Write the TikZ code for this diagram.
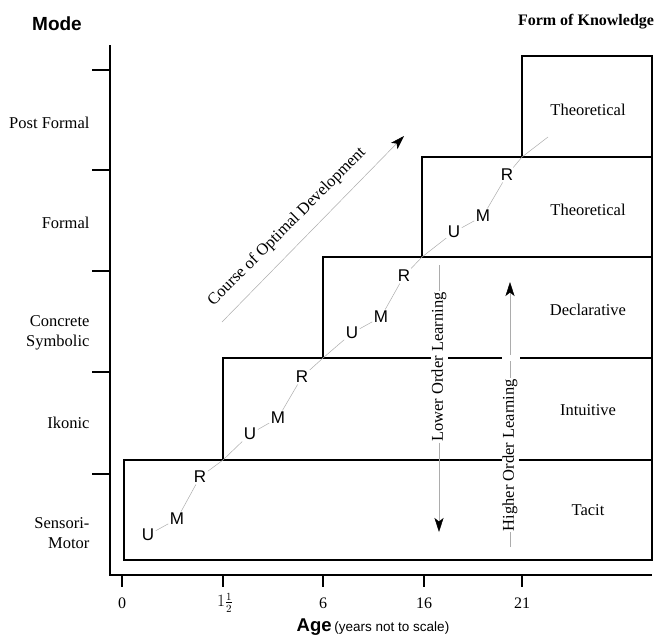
\documentclass[tikz,border=0pt]{standalone}
\usepackage{fontspec}
\setmainfont{Liberation Serif}
\setsansfont{Liberation Sans}
\usetikzlibrary{arrows,arrows.meta}

\begin{document}
\begin{tikzpicture}[-,>=stealth',x=1pt,y=-1pt,
		mode node/.style={anchor=east,align=right,font=\fontsize{16.5}{20}\selectfont},
		form node/.style={font=\fontsize{16.5}{20}\selectfont},
		age node/.style={font=\fontsize{16}{20}\selectfont},
		umr node/.style={font=\sffamily\fontsize{17}{18}\selectfont,inner sep=1.5pt},
		learn node/.style={rotate=90,fill=white,inner sep=1pt,font=\fontsize{16.5}{20}\selectfont},
		box/.style={line width=1.2pt},
		trail/.style={gray!65,line width=0.5pt},
		head/.style={-{Stealth[black,length=14pt,width=9pt,inset=3.5pt]}}]
		\useasboundingbox (0,0) rectangle (661,637);
		% axes and ticks
		\draw[box] (110,45) -- (110,575) -- (652,575);
		\draw[box] (92,70) -- (110,70) (92,170) -- (110,170) (92,271) -- (110,271)
		(92,372) -- (110,372) (92,474) -- (110,474);
		\draw[box] (122,575) -- (122,587) (223,575) -- (223,587) (323,575) -- (323,587)
		(424,575) -- (424,587) (522,575) -- (522,587);
		% steps
		\draw[box] (124,460) rectangle (652,560);
		\draw[box] (223,358) rectangle (652,460);
		\draw[box] (323,257) rectangle (652,358);
		\draw[box] (422,157) rectangle (652,257);
		\draw[box] (522,56) rectangle (652,157);
		
		\node[font=\sffamily\bfseries\fontsize{19}{22}\selectfont] (mode) at (57,24) {Mode};
		\node[font=\bfseries\fontsize{16}{20}\selectfont] (form) at (586,22) {Form of Knowledge};
		\node[mode node] (post) at (93,123) {Post Formal};
		\node[mode node] (formal) at (93,223) {Formal};
		\node[mode node] (concrete) at (93,333) {Concrete\\Symbolic};
		\node[mode node] (ikonic) at (93,423) {Ikonic};
		\node[mode node] (sensori) at (93,533) {Sensori-\\Motor};
		
		\node[form node] (theo2) at (588,110) {Theoretical};
		\node[form node] (theo1) at (588,210) {Theoretical};
		\node[form node] (decl) at (588,310) {Declarative};
		\node[form node] (intu) at (588,410) {Intuitive};
		\node[form node] (tacit) at (588,510) {Tacit};
		
		\node[age node] (a0) at (122,603) {0};
		\node[age node] (a1) at (225,603) {$1\frac{1}{2}$};
		\node[age node] (a6) at (323,603) {6};
		\node[age node] (a16) at (424,603) {16};
		\node[age node] (a21) at (522,603) {21};
		\node (age) at (373,627) {\sffamily{\bfseries\fontsize{18.5}{20}\selectfont Age}
			{\fontsize{13.5}{15}\selectfont (years not to scale)}};
		
		% course of development
		\node[umr node] (u1) at (148,535) {U};
		\node[umr node] (m1) at (177,519) {M};
		\node[umr node] (r1) at (200,477) {R};
		\node[umr node] (u2) at (250,434) {U};
		\node[umr node] (m2) at (278,418) {M};
		\node[umr node] (r2) at (302,377) {R};
		\node[umr node] (u3) at (352,333) {U};
		\node[umr node] (m3) at (381,317) {M};
		\node[umr node] (r3) at (404,276) {R};
		\node[umr node] (u4) at (454,232) {U};
		\node[umr node] (m4) at (483,216) {M};
		\node[umr node] (r4) at (507,175) {R};
		\coordinate (c1) at (223,460);
		\coordinate (c2) at (323,358);
		\coordinate (c3) at (422,257);
		\coordinate (c4) at (522,157);
		\coordinate (c5) at (548,137);
		\draw[trail] (u1) -- (m1) -- (r1) -- (c1) -- (u2) -- (m2) -- (r2) -- (c2) -- (u3)
		-- (m3) -- (r3) -- (c3) -- (u4) -- (m4) -- (r4) -- (c4) -- (c5);
		
		\coordinate (cs) at (222,322);
		\coordinate (ce) at (404,136);
		\draw[trail,head] (cs) -- (ce);
		\node[rotate=45,font=\fontsize{16.5}{20}\selectfont] (course) at (287,227) {Course of Optimal Development};
		
		% learning arrows
		\node[learn node] (lower) at (439,367) {Lower Order Learning};
		\coordinate (ltop) at (439,265);
		\coordinate (ltip) at (439,532);
		\draw[trail] (ltop) -- (lower);
		\draw[trail,head] (lower) -- (ltip);
		
		\node[learn node] (higher) at (510,455) {Higher Order Learning};
		\coordinate (hbot) at (510,547);
		\coordinate (htip) at (510,282);
		\draw[trail] (hbot) -- (higher);
		\draw[trail,head] (higher) -- (htip);
		\fill[white] (502,355) rectangle (520,361);
		\end{tikzpicture}
\end{document}
